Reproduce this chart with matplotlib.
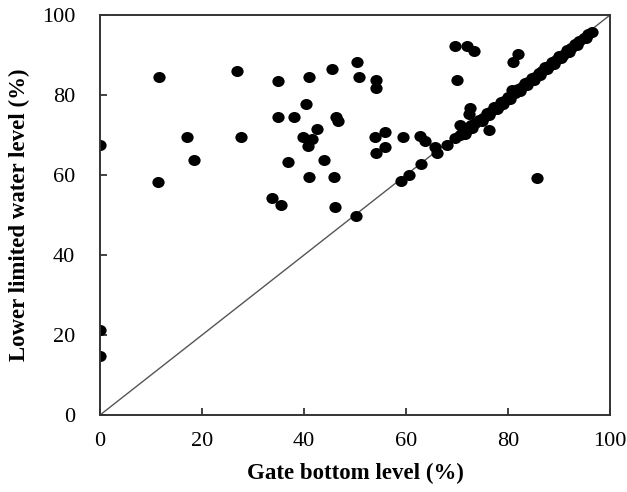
import matplotlib
matplotlib.use("Agg")
import matplotlib.pyplot as plt
from matplotlib.path import Path
from matplotlib.transforms import Affine2D

# scattered points (gate bottom level %, lower limited water level %)
gate_x = [0, 0, 0, 11.6, 11.3, 17.1, 18.5, 26.8, 27.6, 33.8, 35.4, 34.8, 34.8, 38.0,
          36.9, 40.3, 41.0, 39.8, 41.5, 40.8, 42.5, 41.0, 43.9, 45.5, 46.3, 46.6, 45.9,
          46.1, 50.3, 50.7, 50.1, 54.1, 54.2, 55.8, 53.9, 55.8, 54.2, 59.5, 62.7, 63.8,
          65.7, 66.0, 68.0, 69.6, 71.9, 73.3, 69.9, 63.0, 59.0, 60.5, 85.7, 76.3, 72.5,
          72.4, 70.6, 80.9, 81.9]
level_y = [67.5, 21.25, 14.75, 84.5, 58.3, 69.5, 63.7, 86.0, 69.5, 54.3, 52.5, 83.6, 74.5,
           74.5, 63.3, 77.75, 84.5, 69.5, 68.9, 67.2, 71.6, 59.6, 63.7, 86.6, 74.4, 73.4,
           59.6, 51.9, 88.3, 84.5, 49.8, 83.75, 81.8, 70.75, 69.6, 67.0, 65.4, 69.6, 69.75,
           68.4, 67.1, 65.4, 67.6, 92.25, 92.25, 91.0, 83.7, 62.7, 58.5, 60.0, 59.3, 71.2,
           76.7, 75.25, 72.5, 88.2, 90.25]

# points lying along the 1:1 line
diag_x = [69.6, 70.5, 71.2, 72.0, 72.8, 73.5, 74.3, 75.0, 75.8, 76.5, 77.2, 78.0, 78.6,
          79.3, 80.0, 80.7, 81.4, 82.0, 82.7, 83.4, 84.0, 84.6, 85.3, 86.0, 86.6, 87.3,
          88.0, 88.7, 89.4, 90.0, 90.8, 91.6, 92.4, 93.2, 94.0, 94.8, 95.6, 96.4,
          71.5, 73.0, 74.8, 76.2, 77.8, 79.0, 80.3, 82.3, 83.8, 85.0, 86.3, 87.7,
          89.0, 90.4, 91.9, 93.6, 95.2]
diag_y = [69.2, 70.0, 71.0, 71.2, 72.6, 72.9, 73.8, 74.2, 75.5, 75.8, 76.9, 77.1, 78.3,
          78.5, 79.6, 81.3, 80.6, 81.5, 82.0, 83.1, 83.2, 84.2, 84.6, 85.6, 85.9, 87.0,
          87.2, 88.3, 88.7, 89.7, 90.1, 91.2, 91.7, 92.8, 93.4, 94.3, 95.2, 95.8,
          70.2, 71.7, 73.5, 74.9, 76.5, 77.8, 79.0, 81.0, 82.5, 83.8, 85.0, 86.5,
          87.8, 89.2, 90.8, 92.5, 94.2]

ticks = [0, 20, 40, 60, 80, 100]

plt.rcParams['font.family'] = ['Liberation Serif', 'DejaVu Serif']

fig = plt.figure(figsize=(6.27, 4.92), dpi=100)
ax = fig.add_axes([0.1595, 0.1565, 0.8135, 0.813])

# slightly flattened dot
dot = Path.unit_circle().transformed(Affine2D().scale(1.0, 0.9))

ax.plot([0, 100], [0, 100], color='#555555', lw=1.0, zorder=1)
ax.scatter(gate_x, level_y, s=78, marker=dot, color='black', lw=0, zorder=2)
ax.scatter(diag_x, diag_y, s=78, marker=dot, color='black', lw=0, zorder=2)

ax.set_xlim(0, 100)
ax.set_ylim(0, 100)
ax.set_xticks(ticks)
ax.set_yticks(ticks)
ax.tick_params(direction='in', length=5, width=1.2, labelsize=16, color='#222222',
               top=False, right=False)
ax.tick_params(axis='x', pad=12)
ax.tick_params(axis='y', pad=18)
for s in ax.spines.values():
    s.set_linewidth(1.4)
    s.set_color('#333333')

ax.set_xlabel('Gate bottom level (%)', fontsize=16.5, fontweight='bold', labelpad=9)
ax.set_ylabel('Lower limited water level (%)', fontsize=16.5, fontweight='bold', labelpad=8)

fig.savefig('out.png', dpi=100)
